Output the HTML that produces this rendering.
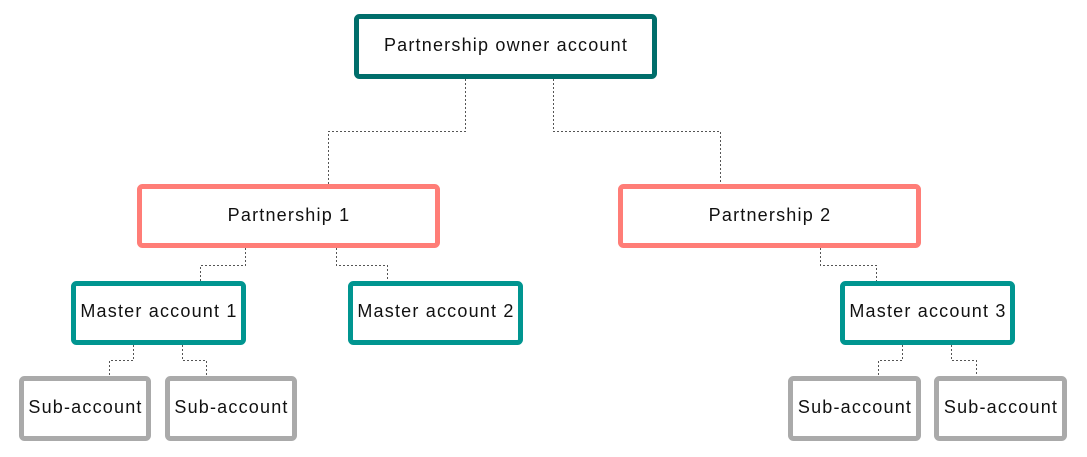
<!DOCTYPE html>
<html><head><meta charset="utf-8"><style>
html,body{margin:0;padding:0;background:#fff;}
svg{display:block}
text{font-family:"Liberation Sans",sans-serif;font-size:18px;letter-spacing:1.2px;fill:#111;text-anchor:middle;dominant-baseline:central}
</style></head><body>
<svg width="1087" height="457" viewBox="0 0 1087 457" xmlns="http://www.w3.org/2000/svg">
<g fill="none" stroke="#555" stroke-width="1" stroke-dasharray="2,2">
<path d="M465.5 79V131.5H328.5V184"/>
<path d="M553.5 79V131.5H720.5V184"/>
<path d="M245.5 248V265.5H200.5V281"/>
<path d="M336.5 248V265.5H387.5V281"/>
<path d="M820.5 248V265.5H876.5V281"/>
<path d="M133.5 345V360.5H109.5V376"/>
<path d="M182.5 345V360.5H206.5V376"/>
<path d="M902.5 345V360.5H878.5V376"/>
<path d="M951.5 345V360.5H976.5V376"/>
</g>
<g fill="#fff" stroke-width="5">
<rect x="356.5" y="16.5" width="298" height="60" rx="3" stroke="#006e6b"/>
<rect x="139.5" y="186.5" width="298" height="59" rx="3" stroke="#ff7d77"/>
<rect x="620.5" y="186.5" width="298" height="59" rx="3" stroke="#ff7d77"/>
<rect x="73.5" y="283.5" width="170" height="59" rx="3" stroke="#009590"/>
<rect x="350.5" y="283.5" width="170" height="59" rx="3" stroke="#009590"/>
<rect x="842.5" y="283.5" width="170" height="59" rx="3" stroke="#009590"/>
<rect x="21.5" y="378.5" width="127" height="60" rx="3" stroke="#aaa"/>
<rect x="167.5" y="378.5" width="127" height="60" rx="3" stroke="#aaa"/>
<rect x="790.5" y="378.5" width="128" height="60" rx="3" stroke="#aaa"/>
<rect x="936.5" y="378.5" width="128" height="60" rx="3" stroke="#aaa"/>
</g>
<text x="506" y="45">Partnership owner account</text>
<text x="289" y="215">Partnership 1</text>
<text x="770" y="215">Partnership 2</text>
<text x="159" y="311">Master account 1</text>
<text x="436" y="311">Master account 2</text>
<text x="928" y="311">Master account 3</text>
<text x="85.5" y="407">Sub-account</text>
<text x="231.5" y="407">Sub-account</text>
<text x="855" y="407">Sub-account</text>
<text x="1001" y="407">Sub-account</text>
</svg>
</body></html>
